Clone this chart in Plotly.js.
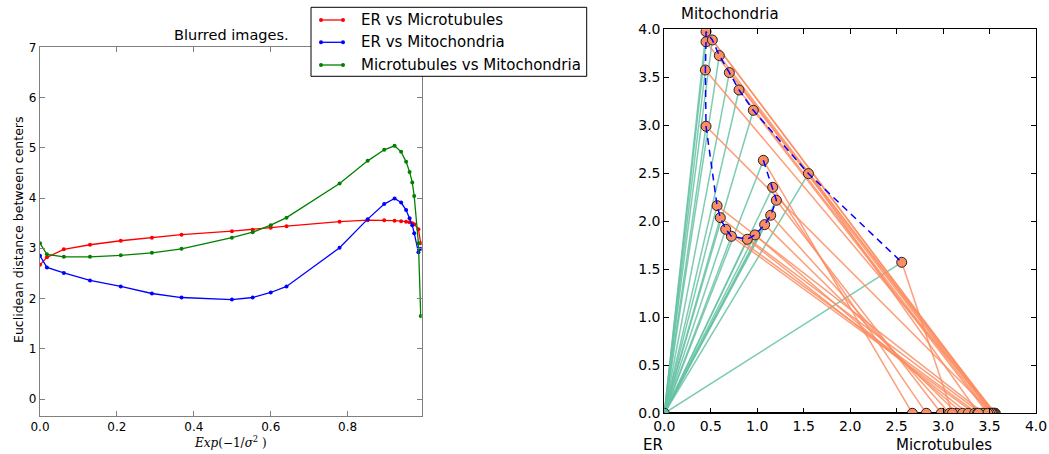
<!DOCTYPE html>
<html>
<head>
<meta charset="utf-8">
<script src="https://cdn.plot.ly/plotly-3.0.1.min.js"></script>
<style>html,body{margin:0;padding:0;background:#fff;}#chart{width:1049px;height:454px;}</style>
</head>
<body>
<div id="chart"></div>
<script>
// ---- Left panel data: x = Exp(-1/sigma^2) ----
const expX = [0, 0.018, 0.062, 0.130, 0.210, 0.291, 0.368, 0.499, 0.553, 0.600, 0.641, 0.779, 0.852, 0.895, 0.922, 0.939, 0.952, 0.961, 0.968, 0.973, 0.984, 0.990];
const erVsMicrotubules = [2.67, 2.82, 2.98, 3.07, 3.15, 3.21, 3.27, 3.34, 3.37, 3.41, 3.44, 3.53, 3.56, 3.56, 3.55, 3.54, 3.53, 3.52, 3.50, 3.48, 3.38, 3.10];
const erVsMitochondria = [2.85, 2.62, 2.51, 2.36, 2.24, 2.10, 2.02, 1.98, 2.02, 2.12, 2.24, 3.01, 3.58, 3.88, 3.99, 3.91, 3.76, 3.60, 3.46, 3.30, 2.92, 2.99];
const microVsMito = [3.10, 2.88, 2.83, 2.83, 2.86, 2.91, 2.99, 3.21, 3.32, 3.46, 3.61, 4.29, 4.74, 4.96, 5.04, 4.92, 4.72, 4.52, 4.31, 4.04, 3.10, 1.65];
const seriesNames = ["ER vs Microtubules", "ER vs Mitochondria", "Microtubules vs Mitochondria"];
const seriesColors = ["#ff0000", "#0000ff", "#008000"];

// ---- Right panel data: Mitochondria positions (same order as expX) ----
const mitoX = [1.066, 1.166, 1.206, 1.145, 1.080, 0.976, 0.893, 0.722, 0.661, 0.603, 0.568, 0.449, 0.442, 0.449, 0.449, 0.517, 0.592, 0.700, 0.804, 0.958, 1.551, 2.555];
const mitoY = [2.635, 2.354, 2.219, 2.063, 1.965, 1.858, 1.813, 1.844, 1.917, 2.038, 2.163, 2.990, 3.576, 3.870, 3.976, 3.889, 3.726, 3.549, 3.368, 3.156, 2.497, 1.573];
// Microtubules positions lie on the x axis at the ER–Microtubules distance
const microX = erVsMicrotubules;

const leftTicksX = [0, 0.2, 0.4, 0.6, 0.8];
const leftTickTextX = ["0.0", "0.2", "0.4", "0.6", "0.8"];
const leftTicksY = [0, 1, 2, 3, 4, 5, 6, 7];
const rightTicks = [0, 0.5, 1, 1.5, 2, 2.5, 3, 3.5, 4];
const rightTickText = ["0.0", "0.5", "1.0", "1.5", "2.0", "2.5", "3.0", "3.5", "4.0"];

const FONT = "DejaVu Sans, sans-serif";
const W = 1049, H = 454;
const px = v => v / W, py = v => 1 - v / H;

const traces = [];
[erVsMicrotubules, erVsMitochondria, microVsMito].forEach((s, i) => {
  traces.push({
    x: expX, y: s, type: "scatter", mode: "lines+markers", name: seriesNames[i],
    line: {color: seriesColors[i], width: 1.3}, marker: {color: seriesColors[i], size: 4},
    xaxis: "x", yaxis: "y"
  });
});

// right panel: teal lines ER(origin)->Mito
const tx = [], ty = [];
mitoX.forEach((x, i) => { tx.push(0, x, null); ty.push(0, mitoY[i], null); });
traces.push({x: tx, y: ty, type: "scatter", mode: "lines",
  line: {color: "rgba(102,194,165,0.85)", width: 1.5}, xaxis: "x2", yaxis: "y2", hoverinfo: "skip"});
// orange lines Mito->Microtubules
const ox = [], oy = [];
mitoX.forEach((x, i) => { ox.push(x, microX[i], null); oy.push(mitoY[i], 0, null); });
traces.push({x: ox, y: oy, type: "scatter", mode: "lines",
  line: {color: "rgba(252,141,98,0.85)", width: 1.5}, xaxis: "x2", yaxis: "y2", hoverinfo: "skip"});
// black ER->Microtubules segments on the axis
const bx = [], by = [];
microX.forEach(x => { bx.push(0, x, null); by.push(0, 0, null); });
traces.push({x: bx, y: by, type: "scatter", mode: "lines",
  line: {color: "#000", width: 2}, xaxis: "x2", yaxis: "y2", hoverinfo: "skip"});
// markers
const mk = {color: "#fc8d62", size: 10, line: {color: "#222", width: 1}};
traces.push({x: microX, y: microX.map(() => 0), type: "scatter", mode: "markers", marker: mk, xaxis: "x2", yaxis: "y2"});
traces.push({x: mitoX, y: mitoY, type: "scatter", mode: "markers", marker: mk, xaxis: "x2", yaxis: "y2"});
traces.push({x: [0], y: [0], type: "scatter", mode: "markers",
  marker: {color: "#66c2a5", size: 10, line: {color: "#222", width: 1}}, xaxis: "x2", yaxis: "y2"});
// blue dashed path through mitochondria positions
traces.push({x: mitoX, y: mitoY, type: "scatter", mode: "lines",
  line: {color: "#0000ff", width: 1.5, dash: "7px,5px"}, xaxis: "x2", yaxis: "y2"});

const axBase = {showgrid: false, zeroline: false, showline: true, mirror: "ticks", ticks: "inside",
  ticklen: 5, tickwidth: 1, tickfont: {family: FONT, size: 12, color: "#000"}, fixedrange: true};

// ---- hand-drawn legend box (matplotlib style, two points per sample) ----
const LG = {x0: 311, x1: 586.7, y0: 7.3, y1: 76.3, rowY: [20, 42.3, 65], s0: 321, s1: 343, tx: 359};
const shapes = [{type: "rect", xref: "paper", yref: "paper", layer: "above",
  x0: px(LG.x0), x1: px(LG.x1), y0: py(LG.y1), y1: py(LG.y0),
  line: {color: "#000", width: 1}, fillcolor: "#fff"}];
const annotations = [];
seriesNames.forEach((n, i) => {
  const yy = LG.rowY[i];
  shapes.push({type: "line", xref: "paper", yref: "paper", layer: "above",
    x0: px(LG.s0), x1: px(LG.s1), y0: py(yy), y1: py(yy), line: {color: seriesColors[i], width: 1.3}});
  [LG.s0, LG.s1].forEach(cx => shapes.push({type: "circle", xref: "paper", yref: "paper", layer: "above",
    x0: px(cx - 2), x1: px(cx + 2), y0: py(yy + 2), y1: py(yy - 2),
    fillcolor: seriesColors[i], line: {color: seriesColors[i], width: 0}}));
  annotations.push({text: n, x: px(LG.tx), y: py(yy), xref: "paper", yref: "paper", xanchor: "left",
    yanchor: "middle", showarrow: false, font: {family: FONT, size: 15, color: "#000"}});
});

annotations.push(
  {text: "Blurred images.", x: px(231), y: py(35), xref: "paper", yref: "paper", xanchor: "center", yanchor: "middle",
    showarrow: false, font: {family: FONT, size: 14.5, color: "#000"}},
  {text: "Euclidean distance between centers", x: px(18), y: py(230), xref: "paper", yref: "paper", textangle: -90,
    xanchor: "center", yanchor: "middle", showarrow: false, font: {family: FONT, size: 12.5, color: "#000"}},
  {text: "<i>Exp</i>(−1/<i>σ</i><sup>2</sup> )", x: px(230), y: py(442), xref: "paper", yref: "paper",
    xanchor: "center", yanchor: "middle", showarrow: false, font: {family: "DejaVu Serif, serif", size: 12, color: "#000"}},
  {text: "Mitochondria", x: px(730), y: py(14), xref: "paper", yref: "paper", xanchor: "center", yanchor: "middle",
    showarrow: false, font: {family: FONT, size: 15, color: "#000"}},
  {text: "ER", x: px(653), y: py(444.5), xref: "paper", yref: "paper", xanchor: "center", yanchor: "middle",
    showarrow: false, font: {family: FONT, size: 15, color: "#000"}},
  {text: "Microtubules", x: px(944), y: py(444.5), xref: "paper", yref: "paper", xanchor: "center", yanchor: "middle",
    showarrow: false, font: {family: FONT, size: 15, color: "#000"}}
);

const layout = {
  width: W, height: H, margin: {l: 0, r: 0, t: 0, b: 0},
  paper_bgcolor: "#fff", plot_bgcolor: "#fff", font: {family: FONT, color: "#000"},
  showlegend: false,
  xaxis: Object.assign({}, axBase, {domain: [px(40), px(421.7)], range: [0, 0.9925], anchor: "y",
    tickvals: leftTicksX, ticktext: leftTickTextX, linecolor: "#808080", tickcolor: "#808080", linewidth: 1.3}),
  yaxis: Object.assign({}, axBase, {domain: [1 - 415.7 / H, 1 - 47.3 / H], range: [-0.332, 7], anchor: "x",
    tickvals: leftTicksY, linecolor: "#808080", tickcolor: "#808080", linewidth: 1.3}),
  xaxis2: Object.assign({}, axBase, {domain: [px(664.3), px(1036)], range: [0, 4], anchor: "y2",
    tickvals: rightTicks, ticktext: rightTickText, linecolor: "#000", tickcolor: "#000",
    tickfont: {family: FONT, size: 14, color: "#000"}}),
  yaxis2: Object.assign({}, axBase, {domain: [1 - 413.3 / H, 1 - 29.3 / H], range: [0, 4], anchor: "x2",
    tickvals: rightTicks, ticktext: rightTickText, linecolor: "#000", tickcolor: "#000",
    tickfont: {family: FONT, size: 14, color: "#000"}}),
  shapes: shapes,
  annotations: annotations
};

Plotly.newPlot("chart", traces, layout, {displayModeBar: false, staticPlot: true});
</script>
</body>
</html>
